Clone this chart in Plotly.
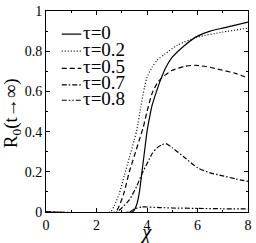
import plotly.graph_objects as go

chi_t0 = [0, 3.4, 3.5, 3.6, 3.7, 3.8, 3.9, 4.0, 4.1, 4.2, 4.35, 4.5, 4.75, 5.0, 5.5, 6.0, 6.5, 7.0, 7.5, 8.0]
r_t0 = [0, 0, 0.01, 0.04, 0.10, 0.20, 0.30, 0.40, 0.47, 0.53, 0.59, 0.645, 0.72, 0.77, 0.83, 0.875, 0.90, 0.915, 0.93, 0.945]

chi_t02 = [0, 2.55, 2.7, 2.9, 3.1, 3.3, 3.5, 3.6, 3.75, 3.9, 4.0, 4.2, 4.4, 4.7, 5.2, 6.0, 7.0, 8.0]
r_t02 = [0, 0, 0.03, 0.09, 0.18, 0.27, 0.36, 0.41, 0.52, 0.62, 0.67, 0.72, 0.755, 0.785, 0.83, 0.87, 0.895, 0.915]

chi_t05 = [0, 2.75, 2.9, 3.1, 3.3, 3.5, 3.7, 3.85, 4.0, 4.2, 4.4, 4.6, 5.0, 5.5, 5.9, 6.5, 7.0, 7.5, 8.0]
r_t05 = [0, 0, 0.03, 0.10, 0.20, 0.28, 0.36, 0.42, 0.50, 0.59, 0.64, 0.67, 0.705, 0.725, 0.73, 0.72, 0.705, 0.69, 0.666]

chi_t07 = [0, 2.8, 3.0, 3.3, 3.6, 3.8, 4.0, 4.2, 4.4, 4.6, 4.75, 5.0, 5.2, 5.5, 6.0, 6.5, 7.0, 7.5, 8.0]
r_t07 = [0, 0, 0.02, 0.06, 0.13, 0.19, 0.24, 0.29, 0.32, 0.335, 0.34, 0.32, 0.30, 0.27, 0.22, 0.195, 0.18, 0.165, 0.152]

chi_t08 = [0, 3.3, 3.5, 3.8, 4.5, 5.0, 6.0, 7.0, 8.0]
r_t08 = [0, 0, 0.015, 0.025, 0.022, 0.02, 0.018, 0.016, 0.015]

labels = ["τ=0", "τ=0.2", "τ=0.5", "τ=0.7", "τ=0.8"]
dashes = ["solid", "1px,2px", "5px,3px", "5px,2px,1.5px,2px", "5px,2px,1.5px,2px,1.5px,2px"]

xs = [chi_t0, chi_t02, chi_t05, chi_t07, chi_t08]
ys = [r_t0, r_t02, r_t05, r_t07, r_t08]

SERIF = "Liberation Serif"

fig = go.Figure()
for x, y, lab, d in zip(xs, ys, labels, dashes):
    fig.add_trace(go.Scatter(x=x, y=y, mode="lines", name=lab, showlegend=False, hoverinfo="skip",
                             line=dict(color="black", width=1.2, dash=d, shape="spline", smoothing=0.6)))

# manual legend (paper coords)
leg_y = [0.885, 0.80, 0.715, 0.632, 0.556]
for lab, d, yy in zip(labels, dashes, leg_y):
    fig.add_shape(type="line", xref="paper", yref="paper", x0=0.078, x1=0.175, y0=yy, y1=yy,
                  line=dict(color="black", width=1.2, dash=d))
    fig.add_annotation(xref="paper", yref="paper", x=0.176, y=yy + 0.01, text=lab, showarrow=False,
                       xanchor="left", yanchor="middle", borderpad=0,
                       font=dict(family=SERIF, size=19, color="black"))

# axis titles
fig.add_annotation(xref="paper", yref="paper", x=0.497, y=-0.1, text="<i>χ</i>", showarrow=False,
                   xanchor="center", yanchor="middle", borderpad=0,
                   font=dict(family=SERIF, size=21, color="black"))
fig.add_annotation(xref="paper", yref="paper", x=-0.17, y=0.49, text="R<sub>0</sub>(t→∞)", showarrow=False,
                   textangle=-90, xanchor="center", yanchor="middle",
                   font=dict(family=SERIF, size=19, color="black"))

axis_common = dict(showgrid=False, zeroline=False, showline=True, linecolor="black", linewidth=1,
                   mirror="allticks", ticks="inside", ticklen=4, tickcolor="black",
                   ticklabeloverflow="allow",
                   tickfont=dict(family=SERIF, size=14, color="black"))

fig.update_xaxes(range=[0, 8], tickvals=[0, 2, 4, 6, 8], ticktext=["0", "2", "4", "6", "8"],
                 minor=dict(dtick=1, ticks="inside", ticklen=2, tickcolor="black"),
                 **axis_common)
fig.update_yaxes(range=[0, 1], tickvals=[0, 0.2, 0.4, 0.6, 0.8, 1], ticktext=["0", "0.2", "0.4", "0.6", "0.8", "1"],
                 minor=dict(dtick=0.1, ticks="inside", ticklen=2, tickcolor="black"),
                 **axis_common)

fig.update_layout(width=256, height=243, margin=dict(l=46, r=4, t=5, b=31),
                  plot_bgcolor="white", paper_bgcolor="white", showlegend=False)

fig.write_html("out.html", config={"displayModeBar": False},
               post_script="document.body.style.margin='0';document.body.style.overflow='hidden';")
